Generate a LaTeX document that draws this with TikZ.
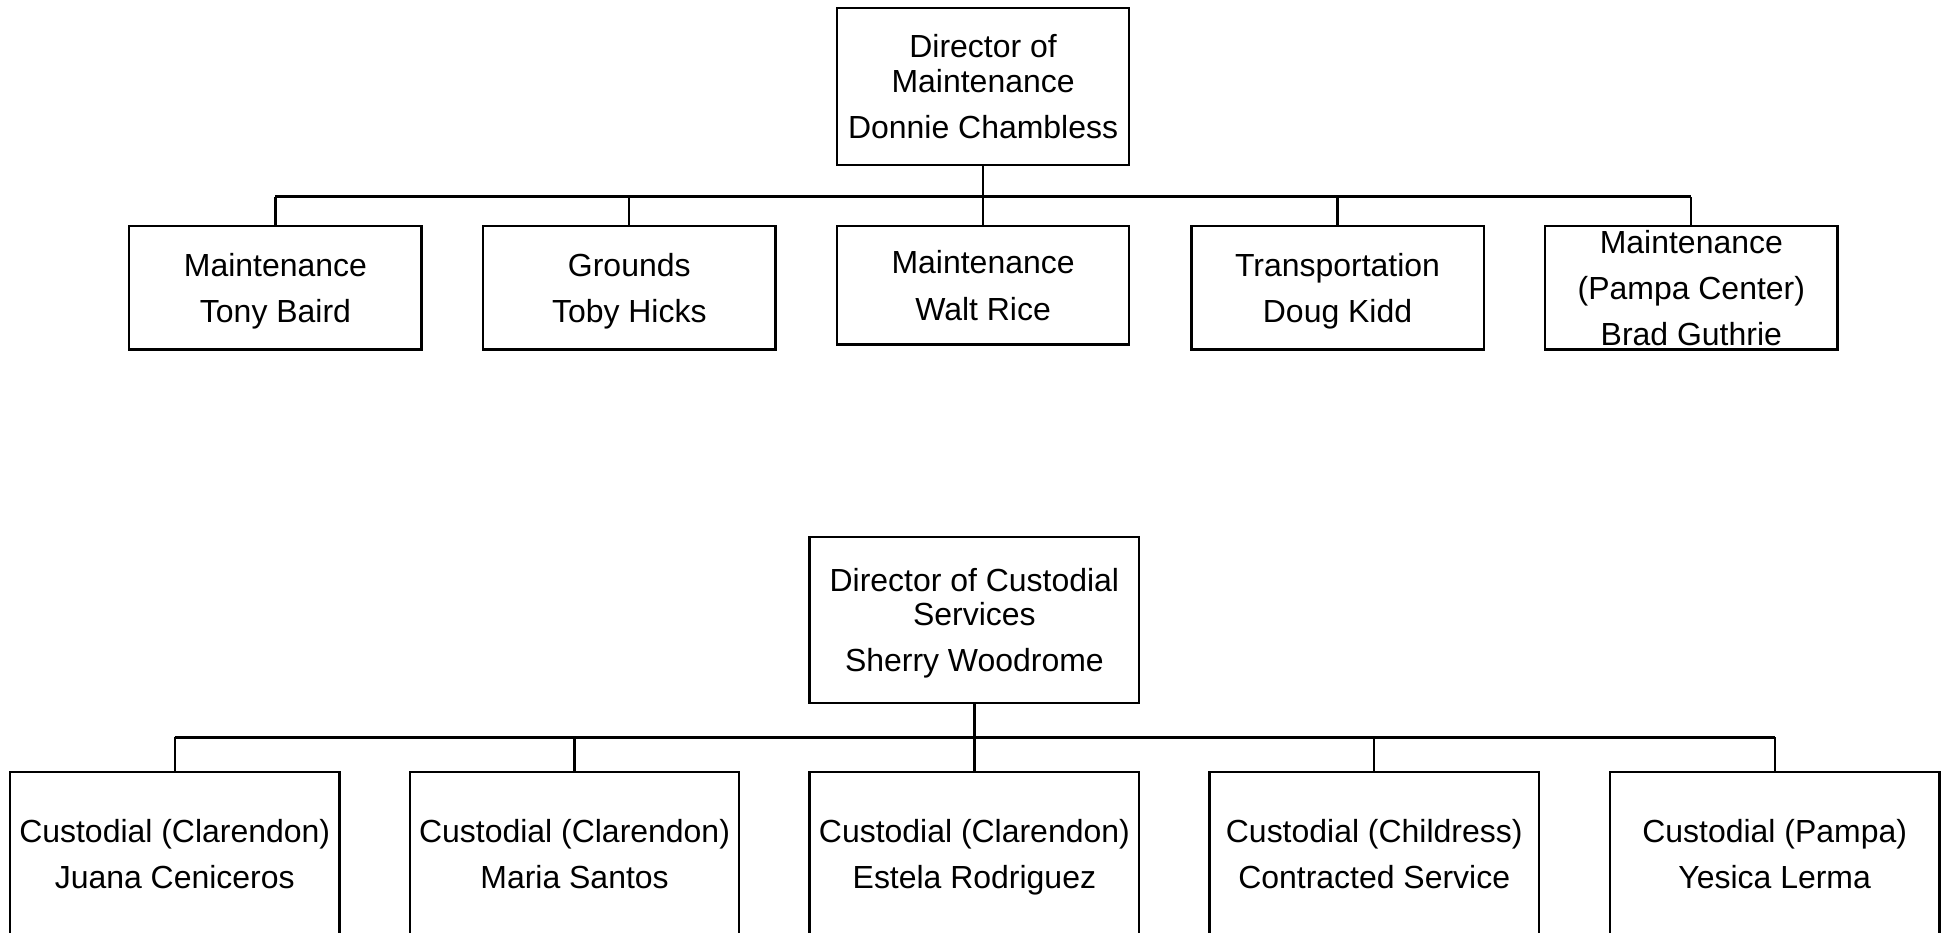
\documentclass[tikz,border=0pt]{standalone}
\usepackage{fontspec}
\setmainfont{Liberation Sans}
\begin{document}
\begin{tikzpicture}[x=0.5pt,y=-0.5pt,
  orgbox/.style={draw, line width=0.9pt, align=center, inner sep=0pt, text depth=0pt,
    font=\fontsize{12.85}{14}\selectfont},
  toprow/.style={orgbox, minimum width=117.5pt, minimum height=49.5pt},
  lowrow/.style={orgbox, minimum width=132.5pt, minimum height=65.5pt, anchor=north},
  link/.style={line width=0.9pt}]

\useasboundingbox (0,0) rectangle (1568,751.8);
\clip (0,0) rectangle (1568,749.5);

% maintenance
\node[orgbox, minimum width=117.5pt, minimum height=63pt] (dm) at (790.5,69.5)
  {Director of\\Maintenance\\[4.5pt]Donnie Chambless};
\node[toprow] (m1) at (221.5,231.5) {Maintenance\\[4.5pt]Tony Baird};
\node[toprow] (m2) at (506,231.5) {Grounds\\[4.5pt]Toby Hicks};
\node[toprow, minimum height=47.5pt] (m3) at (790.5,229.5) {Maintenance\\[4.5pt]Walt Rice};
\node[toprow] (m4) at (1075.5,231.5) {Transportation\\[4.5pt]Doug Kidd};
\node[toprow] (m5) at (1360,231.5) {Maintenance\\[4.5pt](Pampa Center)\\[4.5pt]Brad Guthrie};

\coordinate (busM) at (790.5,158);
\draw[link] (dm.south) -- (dm.south |- busM);
\draw[link] (m1.north |- busM) -- (m5.north |- busM);
\foreach \n in {m1,m2,m3,m4,m5}
  \draw[link] (\n.north) -- (\n.north |- busM);

% custodial
\node[orgbox, minimum width=132.5pt, minimum height=66.5pt] (dc) at (783.5,498.5)
  {Director of Custodial\\Services\\[4.5pt]Sherry Woodrome};
\node[lowrow] (c1) at (140.5,620) {Custodial (Clarendon)\\[4.5pt]Juana Ceniceros};
\node[lowrow] (c2) at (462,620) {Custodial (Clarendon)\\[4.5pt]Maria Santos};
\node[lowrow] (c3) at (783.5,620) {Custodial (Clarendon)\\[4.5pt]Estela Rodriguez};
\node[lowrow] (c4) at (1105,620) {Custodial (Childress)\\[4.5pt]Contracted Service};
\node[lowrow] (c5) at (1427,620) {Custodial (Pampa)\\[4.5pt]Yesica Lerma};

\coordinate (busC) at (783.5,593);
\draw[link] (dc.south) -- (dc.south |- busC);
\draw[link] (c1.north |- busC) -- (c5.north |- busC);
\foreach \n in {c1,c2,c3,c4,c5}
  \draw[link] (\n.north) -- (\n.north |- busC);
\end{tikzpicture}
\end{document}
